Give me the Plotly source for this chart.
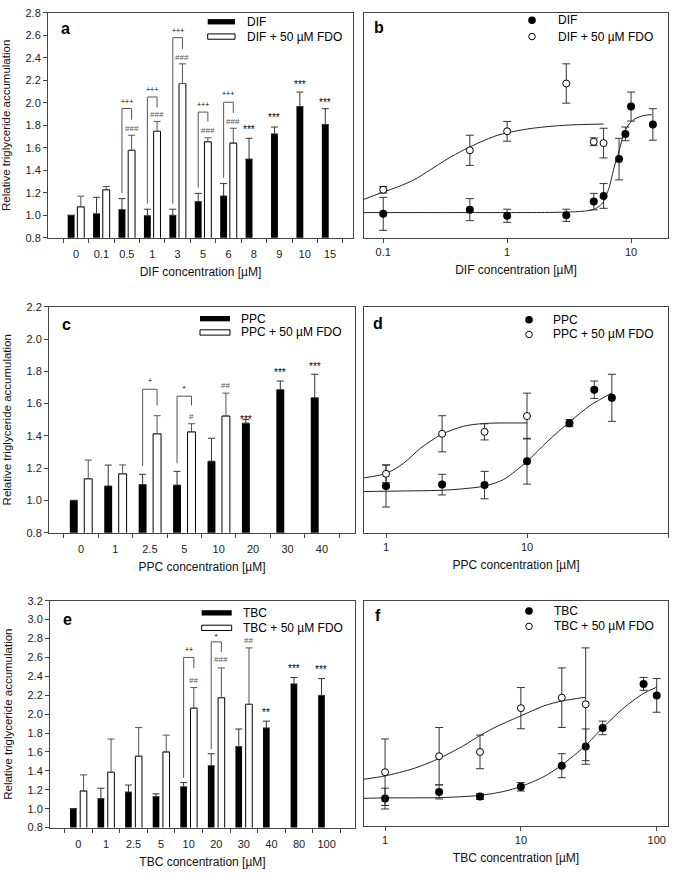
import plotly.graph_objects as go

W, H = 677, 875
FONT = "Arial, 'Liberation Sans', sans-serif"

# ---------------- data ----------------
# DIF
dif_labels = ["0", "0.1", "0.5", "1", "3", "5", "6", "8", "9", "10", "15"]
dif_conc = [0.1, 0.5, 1, 3, 5, 6, 8, 9, 10, 15]
dif_mean = [1.00, 1.013, 1.05, 0.996, 1.0, 1.122, 1.172, 1.50, 1.724, 1.967, 1.808]
dif_se = [0, 0.147, 0.098, 0.058, 0.054, 0.073, 0.11, 0.185, 0.061, 0.129, 0.14]
dif_fdo_mean = [1.075, 1.227, 1.578, 1.747, 2.172, 1.654, 1.642]
dif_fdo_se = [0.095, 0.029, 0.134, 0.088, 0.175, 0.035, 0.132]
dif_fit_x = [0.07, 0.3, 1, 2, 3, 4, 4.9, 5.4, 5.9, 6.3, 6.67, 7.3, 8.0, 8.8, 9.66, 10.5, 11.6, 13, 14.7]
dif_fit_y = [1.024, 1.024, 1.024, 1.025, 1.028, 1.035, 1.048, 1.072, 1.11, 1.179, 1.25, 1.426, 1.572,
             1.733, 1.812, 1.852, 1.875, 1.89, 1.895]
dif_fdo_fit_x = [0.07, 0.1, 0.13, 0.177, 0.24, 0.327, 0.446, 0.607, 0.826, 1.0, 1.53, 2.84, 6.0]
dif_fdo_fit_y = [1.142, 1.207, 1.251, 1.315, 1.405, 1.499, 1.581, 1.651, 1.71, 1.733, 1.771, 1.80, 1.812]
dif_br_idx = [2, 3, 4, 5, 6]
dif_br_top = [1.95, 2.052, 2.58, 1.918, 2.005]
dif_br_end = [1.85, 1.958, 2.479, 1.835, 1.909]
dif_plus_y = [2.01, 2.12, 2.645, 1.988, 2.08]
dif_plus_txt = ["+++", "+++", "+++", "+++", "+++"]
dif_hash_idx = [2, 3, 4, 5, 6]
dif_hash_y = [1.768, 1.894, 2.40, 1.753, 1.835]
dif_hash_txt = ["###", "###", "###", "###", "###"]
dif_star_idx = [7, 8, 9, 10]
dif_star_y = [1.782, 1.894, 2.186, 2.028]
dif_star_txt = ["***", "***", "***", "***"]

# PPC
ppc_labels = ["0", "1", "2.5", "5", "10", "20", "30", "40"]
ppc_conc = [1, 2.5, 5, 10, 20, 30, 40]
ppc_mean = [1.0, 1.089, 1.098, 1.095, 1.243, 1.479, 1.686, 1.636]
ppc_se = [0, 0.13, 0.064, 0.085, 0.142, 0.022, 0.054, 0.146]
ppc_fdo_mean = [1.134, 1.165, 1.413, 1.425, 1.523]
ppc_fdo_se = [0.116, 0.055, 0.112, 0.05, 0.142]
ppc_fit_x = [0.70, 1, 2.5, 3.5, 5, 6.84, 10, 13.9, 20, 28.1, 40]
ppc_fit_y = [1.055, 1.057, 1.063, 1.072, 1.089, 1.13, 1.242, 1.364, 1.486, 1.589, 1.666]
ppc_fdo_fit_x = [0.70, 1.0, 1.34, 1.76, 2.5, 3.56, 5, 10]
ppc_fdo_fit_y = [1.14, 1.167, 1.232, 1.324, 1.411, 1.46, 1.477, 1.48]
ppc_br_idx = [2, 3]
ppc_br_top = [1.689, 1.646]
ppc_br_end = [1.589, 1.589]
ppc_plus_y = [1.746, 1.70]
ppc_plus_txt = ["+", "+"]
ppc_hash_idx = [3, 4]
ppc_hash_y = [1.523, 1.715]
ppc_hash_txt = ["#", "##"]
ppc_star_idx = [5, 6, 7]
ppc_star_y = [1.515, 1.81, 1.848]
ppc_star_txt = ["***", "***", "***"]

# TBC
tbc_labels = ["0", "1", "2.5", "5", "10", "20", "30", "40", "80", "100"]
tbc_conc = [1, 2.5, 5, 10, 20, 30, 40, 80, 100]
tbc_mean = [1.0, 1.106, 1.176, 1.127, 1.231, 1.454, 1.656, 1.854, 2.32, 2.198]
tbc_se = [0, 0.11, 0.074, 0.03, 0.045, 0.127, 0.187, 0.072, 0.068, 0.178]
tbc_fdo_mean = [1.187, 1.385, 1.555, 1.6, 2.063, 2.174, 2.104]
tbc_fdo_se = [0.17, 0.352, 0.303, 0.178, 0.218, 0.315, 0.597]
tbc_fit_x = [0.70, 1, 2.5, 5, 7.5, 10, 14.8, 20, 26.1, 30, 40, 57.5, 80, 100]
tbc_fit_y = [1.109, 1.113, 1.116, 1.14, 1.182, 1.234, 1.339, 1.461, 1.593, 1.669, 1.855, 2.069, 2.219, 2.285]
tbc_fdo_fit_x = [0.70, 1, 1.64, 2.5, 3.82, 5, 6.7, 10, 14.8, 20, 30]
tbc_fdo_fit_y = [1.311, 1.346, 1.426, 1.531, 1.669, 1.774, 1.871, 1.982, 2.087, 2.139, 2.178]
tbc_br_idx = [4, 5]
tbc_br_top = [2.60, 2.765]
tbc_br_end = [2.487, 2.657]
tbc_plus_y = [2.685, 2.83]
tbc_plus_txt = ["++", "+"]
tbc_hash_idx = [4, 5, 6]
tbc_hash_y = [2.358, 2.574, 2.783]
tbc_hash_txt = ["##", "###", "##"]
tbc_star_idx = [7, 8, 9]
tbc_star_y = [2.045, 2.504, 2.497]
tbc_star_txt = ["**", "***", "***"]

# ---------------- helpers ----------------
fig = go.Figure()
shapes = []
annotations = []
AX_COL = "#444444"


def px(X):
    return X / W


def py(Y):
    return 1 - Y / H


def bar_panel(n, labels, mean, se, fmean, fse, center, width, gap, ppu, br, plus, hashes, stars):
    xs = list(range(len(labels)))
    xref, yref = "x" if n == 1 else f"x{n}", "y" if n == 1 else f"y{n}"
    fig.add_trace(go.Bar(
        x=xs, y=mean, xaxis=xref, yaxis=yref, width=width, offset=-center - width / 2,
        marker=dict(color="black", line=dict(width=0)), showlegend=False,
        error_y=dict(type="data", array=se, arrayminus=[0] * len(se), symmetric=False,
                     color="#333333", thickness=1, width=3.5)))
    fx = list(range(len(fmean)))
    fig.add_trace(go.Bar(
        x=fx, y=fmean, xaxis=xref, yaxis=yref, width=width, offset=center - width / 2,
        marker=dict(color="white", line=dict(width=1, color="black")), showlegend=False,
        error_y=dict(type="data", array=fse, arrayminus=[0] * len(fse), symmetric=False,
                     color="#555555", thickness=1, width=3.5)))
    b_idx, b_top, b_end = br
    for i, t, e in zip(b_idx, b_top, b_end):
        xl, xr = i - center, i + center
        yb = mean[i] + se[i] + gap
        shapes.append(dict(type="path", xref=xref, yref=yref,
                           path=f"M {xl},{yb} L {xl},{t} L {xr},{t} L {xr},{e}",
                           line=dict(color="#555555", width=1)))
    for i, yv, tx in zip(b_idx, plus[0], plus[1]):
        annotations.append(dict(x=i, y=yv, xref=xref, yref=yref, text=tx, showarrow=False,
                                font=dict(size=7, color="#000000", family=FONT)))
    for i, yv, tx in zip(*hashes):
        annotations.append(dict(x=i + center, y=yv, xref=xref, yref=yref, text=tx, showarrow=False,
                                font=dict(size=8, color="#555555", family=FONT)))
    for i, yv, tx in zip(*stars):
        annotations.append(dict(x=i - center, y=yv - 2.5 / ppu, xref=xref, yref=yref, text=tx,
                                showarrow=False, font=dict(size=10, color="#000000", family=FONT)))


def scatter_panel(n, conc, mean, se, fconc, fmean, fse, fit, ffit):
    xref, yref = f"x{n}", f"y{n}"
    fig.add_trace(go.Scatter(x=fit[0], y=fit[1], xaxis=xref, yaxis=yref, mode="lines",
                             line=dict(color="#222222", width=1, shape="spline", smoothing=0.8),
                             showlegend=False, hoverinfo="skip"))
    fig.add_trace(go.Scatter(x=ffit[0], y=ffit[1], xaxis=xref, yaxis=yref, mode="lines",
                             line=dict(color="#222222", width=1, shape="spline", smoothing=0.8),
                             showlegend=False, hoverinfo="skip"))
    fig.add_trace(go.Scatter(x=conc, y=mean[1:], xaxis=xref, yaxis=yref, mode="markers",
                             marker=dict(color="black", size=8, line=dict(width=0)),
                             error_y=dict(type="data", array=se[1:], color="#333333", thickness=1, width=4),
                             showlegend=False))
    fig.add_trace(go.Scatter(x=fconc, y=fmean[1:], xaxis=xref, yaxis=yref, mode="markers",
                             marker=dict(color="white", size=7, line=dict(width=1, color="black")),
                             error_y=dict(type="data", array=fse[1:], color="#333333", thickness=1, width=4),
                             showlegend=False))


bar_panel(1, dif_labels, dif_mean, dif_se, dif_fdo_mean, dif_fdo_se, 0.19, 0.27, 0.05, 114,
          (dif_br_idx, dif_br_top, dif_br_end), (dif_plus_y, dif_plus_txt),
          (dif_hash_idx, dif_hash_y, dif_hash_txt), (dif_star_idx, dif_star_y, dif_star_txt))
bar_panel(3, ppc_labels, ppc_mean, ppc_se, ppc_fdo_mean, ppc_fdo_se, 0.21, 0.23, 0.05, 163.6,
          (ppc_br_idx, ppc_br_top, ppc_br_end), (ppc_plus_y, ppc_plus_txt),
          (ppc_hash_idx, ppc_hash_y, ppc_hash_txt), (ppc_star_idx, ppc_star_y, ppc_star_txt))
bar_panel(5, tbc_labels, tbc_mean, tbc_se, tbc_fdo_mean, tbc_fdo_se, 0.185, 0.24, 0.05, 95.8,
          (tbc_br_idx, tbc_br_top, tbc_br_end), (tbc_plus_y, tbc_plus_txt),
          (tbc_hash_idx, tbc_hash_y, tbc_hash_txt), (tbc_star_idx, tbc_star_y, tbc_star_txt))

scatter_panel(2, dif_conc, dif_mean, dif_se, dif_conc[:6], dif_fdo_mean, dif_fdo_se,
              (dif_fit_x, dif_fit_y), (dif_fdo_fit_x, dif_fdo_fit_y))
scatter_panel(4, ppc_conc, ppc_mean, ppc_se, ppc_conc[:4], ppc_fdo_mean, ppc_fdo_se,
              (ppc_fit_x, ppc_fit_y), (ppc_fdo_fit_x, ppc_fdo_fit_y))
scatter_panel(6, tbc_conc, tbc_mean, tbc_se, tbc_conc[:6], tbc_fdo_mean, tbc_fdo_se,
              (tbc_fit_x, tbc_fit_y), (tbc_fdo_fit_x, tbc_fdo_fit_y))

# ---------------- axes ----------------
tickfont = dict(family=FONT, size=11, color="#222222")
titlefont = dict(family=FONT, size=12, color="#111111")
ytitlefont = dict(family=FONT, size=11.5, color="#111111")
YTITLE = "Relative triglyceride accumulation"


def cat_xaxis(x0, x1, rng, labels, anchor, title):
    n = len(labels)
    return dict(domain=[px(x0), px(x1)], range=rng, anchor=anchor,
                tickmode="array", tickvals=list(range(n)), ticktext=labels, ticks="",
                ticklabelstandoff=6,
                minor=dict(tickmode="array", tickvals=[i - 0.5 for i in range(n + 1)], ticks="outside",
                           ticklen=4, tickcolor=AX_COL, showgrid=False),
                showline=True, mirror=True, linecolor=AX_COL, linewidth=1, showgrid=False, zeroline=False,
                tickfont=tickfont, title=dict(text=title, font=titlefont, standoff=8))


def val_yaxis(y0, y1, rng, dtick, anchor):
    return dict(domain=[py(y1), py(y0)], range=rng, anchor=anchor, dtick=dtick, tick0=0.8,
                tickformat=".1f", ticks="outside", ticklen=4, tickcolor=AX_COL,
                showline=True, mirror=True, linecolor=AX_COL, linewidth=1, showgrid=False, zeroline=False,
                tickfont=tickfont, title=dict(text=YTITLE, font=ytitlefont, standoff=12))


def log_xaxis(x0, x1, rng, vals, anchor, title):
    return dict(type="log", domain=[px(x0), px(x1)], range=rng, anchor=anchor,
                tickmode="array", tickvals=vals, ticktext=[str(v) for v in vals],
                ticks="outside", ticklen=4, tickcolor=AX_COL,
                showline=True, mirror=True, linecolor=AX_COL, linewidth=1, showgrid=False, zeroline=False,
                tickfont=tickfont, title=dict(text=title, font=titlefont, standoff=8))


def blank_yaxis(y0, y1, rng, anchor):
    return dict(domain=[py(y1), py(y0)], range=rng, anchor=anchor, showticklabels=False, ticks="",
                showline=True, mirror=True, linecolor=AX_COL, linewidth=1, showgrid=False, zeroline=False)


layout = dict(
    width=W, height=H, autosize=False, margin=dict(l=0, r=0, t=0, b=0),
    paper_bgcolor="white", plot_bgcolor="white", barmode="overlay",
    font=dict(family=FONT, color="#111111"),
    xaxis=cat_xaxis(48, 353, [-1.1, 10.9], dif_labels, "y", "DIF concentration [µM]"),
    yaxis=val_yaxis(7, 235, [0.8, 2.8], 0.2, "x"),
    xaxis2=log_xaxis(364, 668, [-1.155, 1.298], [0.1, 1, 10], "y2", "DIF concentration [µM]"),
    yaxis2=blank_yaxis(7, 235, [0.8, 2.8], "x2"),
    xaxis3=cat_xaxis(49, 355, [-0.93, 7.96], ppc_labels, "y3", "PPC concentration [µM]"),
    yaxis3=val_yaxis(305, 534, [0.8, 2.2], 0.2, "x3"),
    xaxis4=log_xaxis(364, 668, [-0.156, 2.0], [1, 10, 100], "y4", "PPC concentration [µM]"),
    yaxis4=blank_yaxis(305, 534, [0.8, 2.2], "x4"),
    xaxis5=cat_xaxis(50, 355, [-1.03, 10.03], tbc_labels, "y5", "TBC concentration [µM]"),
    yaxis5=val_yaxis(603, 833, [0.8, 3.2], 0.2, "x5"),
    xaxis6=log_xaxis(364, 668, [-0.155, 2.083], [1, 10, 100], "y6", "TBC concentration [µM]"),
    yaxis6=blank_yaxis(603, 831, [0.82, 3.2], "x6"),
)

# ---------------- panel letters ----------------
for letter, (X, Y) in zip("abcdef", [(65, 23), (378.5, 22), (66, 323), (378, 322), (67, 622), (377.5, 618)]):
    annotations.append(dict(x=px(X), y=py(Y), xref="paper", yref="paper", text=f"<b>{letter}</b>",
                            showarrow=False, xanchor="center", yanchor="middle",
                            font=dict(family=FONT, size=16, color="black")))

# ---------------- legends (drawn) ----------------
bar_legends = [
    (207.7, 235, 245, 16, 31, "DIF"),
    (200, 230, 239, 317, 331, "PPC"),
    (201.7, 231.7, 240.7, 615.3, 630.5, "TBC"),
]
for x0, x1, tx, y1, y2, name in bar_legends:
    shapes.append(dict(type="rect", xref="paper", yref="paper", x0=px(x0), x1=px(x1),
                       y0=py(y1 + 2.7), y1=py(y1 - 2.7), fillcolor="black", line=dict(width=0)))
    shapes.append(dict(type="rect", xref="paper", yref="paper", x0=px(x0), x1=px(x1),
                       y0=py(y2 + 2.7), y1=py(y2 - 2.7), fillcolor="white", line=dict(width=1, color="black")))
    annotations.append(dict(x=px(tx), y=py(y1), xref="paper", yref="paper", text=name, showarrow=False,
                            xanchor="left", yanchor="middle", font=dict(family=FONT, size=12, color="black")))
    annotations.append(dict(x=px(tx), y=py(y2), xref="paper", yref="paper", text=f"{name} + 50 µM FDO",
                            showarrow=False, xanchor="left", yanchor="middle",
                            font=dict(family=FONT, size=12, color="black")))

sc_legends = [
    (532, 556, 14.5, 31, "DIF"),
    (529, 551, 318, 333, "PPC"),
    (529, 552, 613.5, 629, "TBC"),
]
for cx, tx, y1, y2, name in sc_legends:
    r1, r2 = 3.8, 3.3
    shapes.append(dict(type="circle", xref="paper", yref="paper", x0=px(cx - r1), x1=px(cx + r1),
                       y0=py(y1 + r1), y1=py(y1 - r1), fillcolor="black", line=dict(width=0)))
    shapes.append(dict(type="circle", xref="paper", yref="paper", x0=px(cx - r2), x1=px(cx + r2),
                       y0=py(y2 + r2), y1=py(y2 - r2), fillcolor="white", line=dict(width=1, color="black")))
    annotations.append(dict(x=px(tx), y=py(y1), xref="paper", yref="paper", text=name, showarrow=False,
                            xanchor="left", yanchor="middle", font=dict(family=FONT, size=12, color="black")))
    annotations.append(dict(x=px(tx), y=py(y2), xref="paper", yref="paper", text=f"{name} + 50 µM FDO",
                            showarrow=False, xanchor="left", yanchor="middle",
                            font=dict(family=FONT, size=12, color="black")))

layout["shapes"] = shapes
layout["annotations"] = annotations
fig.update_layout(**layout)
fig.write_html("out.html", config={"displayModeBar": False},
               post_script=["document.body.style.margin='0px';document.body.style.overflow='hidden';"])
